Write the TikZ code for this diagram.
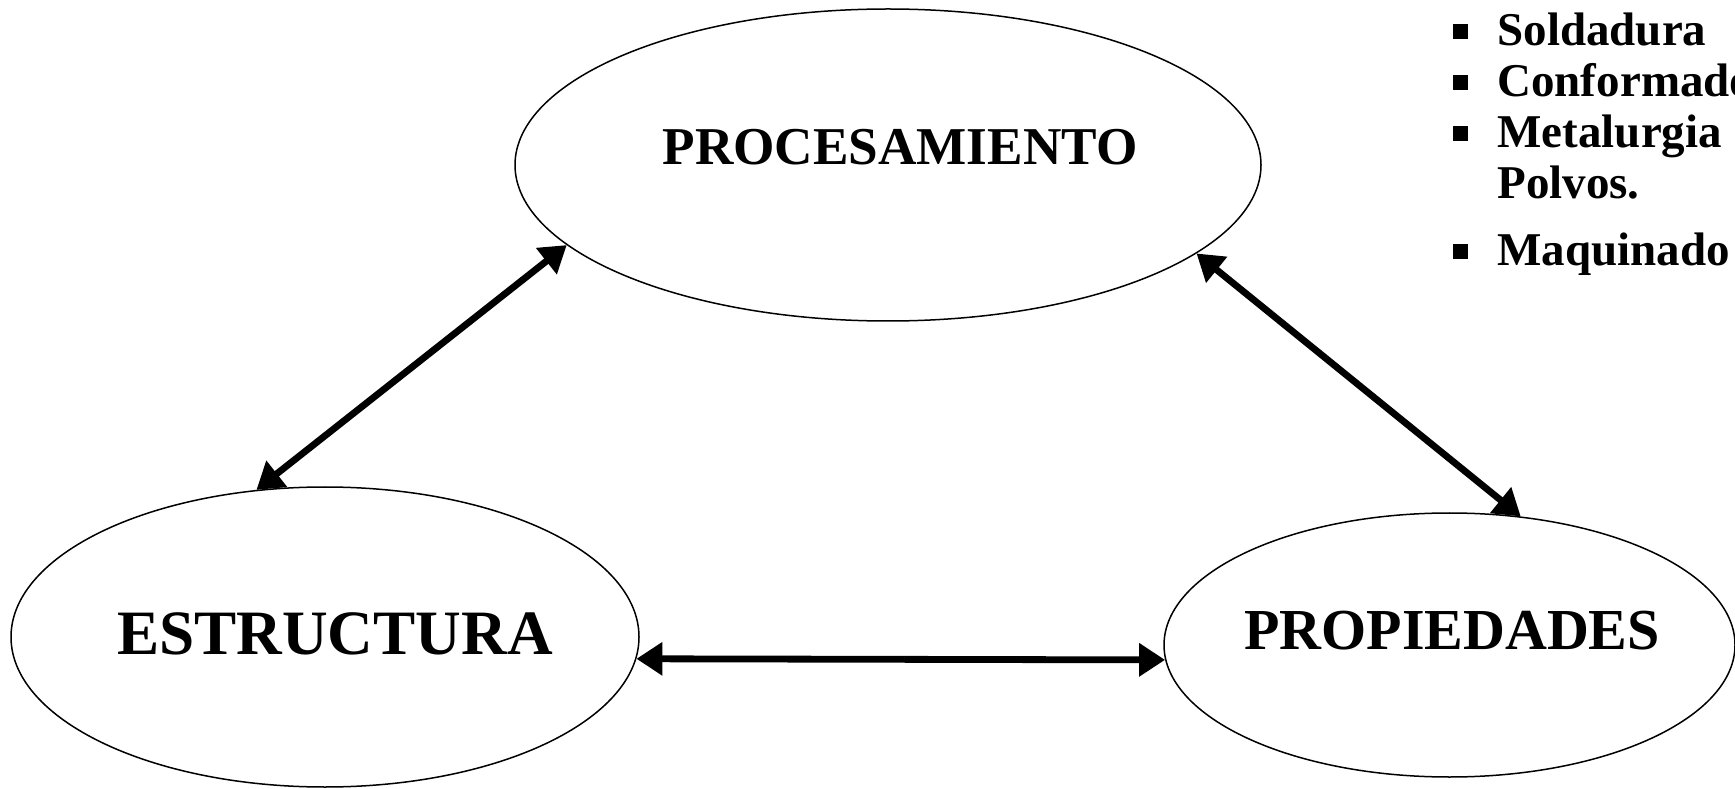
\documentclass[tikz,border=0pt]{standalone}
\usepackage{fontspec}
\setmainfont{Liberation Serif}
\usetikzlibrary{shapes.geometric,arrows.meta}
\begin{document}
\begin{tikzpicture}[x=0.5pt,y=0.5pt,>={Triangle[length=13pt,width=16pt]},line join=round,
	etapa/.style={draw,ellipse,line width=0.75pt,inner sep=0pt},
	titulo/.style={font=\fontsize{#1}{#1}\selectfont\bfseries,inner sep=0pt},
	flecha/.style={<->,line width=3.4pt},
	vineta/.style={fill,minimum size=7.5pt,inner sep=0pt},
	punto/.style={font=\fontsize{23.5}{23.5}\selectfont\bfseries,anchor=base west,inner sep=0pt}]
	\clip (0,0) rectangle (1735,788);
	% las tres etapas
	\node[etapa,minimum width=373pt,minimum height=156pt] (proc) at (888,623) {};
	\node[etapa,minimum width=314pt,minimum height=150pt] (estr) at (325,151) {};
	\node[etapa,minimum width=285.5pt,minimum height=132pt] (prop) at (1449.5,143) {};
	\node[titulo=26.6] (proc-t) at (900,641) {PROCESAMIENTO};
	\node[titulo=31.6] (estr-t) at (335,154) {ESTRUCTURA};
	\node[titulo=29] (prop-t) at (1452,157) {PROPIEDADES};
	% flechas
	\draw[flecha] (proc.194.5)--(estr.115.8);
	\draw[flecha] (proc.344.5)--(prop.61.2);
	\draw[flecha] (estr.-4.2)--(prop.183.3);
	% lista de procesos
	\foreach \t/\y [count=\i] in {Soldadura/742,Conformado/691,Metalurgia/640,Maquinado/522}{\node[vineta] (b\i) at (1460.5,\y+14) {}; \node[punto] (t\i) at (1497,\y) {\t};}
	\node[punto] (t5) at (1497,589) {Polvos.};
\end{tikzpicture}
\end{document}
